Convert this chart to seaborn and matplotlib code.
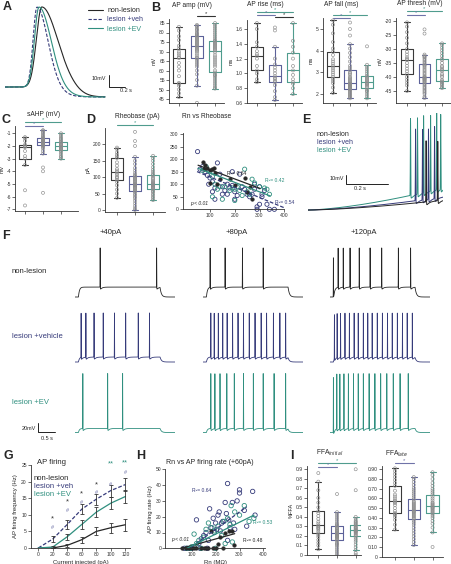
import numpy as np
import pandas as pd
import matplotlib
matplotlib.use('Agg')
import matplotlib.pyplot as plt
import seaborn as sns
from matplotlib.lines import Line2D

sns.set_style('ticks')
plt.rcParams['font.family'] = ['Liberation Sans', 'DejaVu Sans']
plt.rcParams['axes.linewidth'] = 0.6
plt.rcParams['axes.edgecolor'] = '#333333'

# --- colours ---
NL, VEH, EV = '#262626', '#363b7a', '#2f8f7f'
BOX_COLORS = ['#3a3a3a', '#5c6199', '#4f9c8e']
SIG_NL, SIG_VEH, SIG_EV = '#333333', '#6f73a8', '#4f9c8e'
POINT_COLOR = '#8c8c8c'
GROUPS = ['non-lesion', 'lesion +veh', 'lesion +EV']

# --- A: AP waveform (peak time, rise width, decay width) ---
ap_peak = [0.46, 0.40, 0.425]
ap_rise = [0.095, 0.068, 0.08]
ap_decay = [0.276, 0.19, 0.21]

# --- B/C/D/I: box plot samples ---
amp_nl = [46, 48, 50, 52, 53, 53.5, 57, 60, 62, 64, 66.5, 67, 68, 69, 70, 71.5, 73, 76, 78, 81, 83]
amp_veh = [43, 52, 55, 58, 60, 62, 63, 64, 65, 66, 66.5, 67, 68, 69, 70, 70.5, 71, 71.5, 72, 72.5, 73,
           73.5, 74, 74.5, 75, 75.5, 76, 76.5, 77, 77.5, 78, 78.5, 79, 79.5, 80, 81, 81.5, 82, 83, 83.5, 84]
amp_ev = [50.5, 51, 52, 53, 54, 55, 56, 57, 57.5, 58, 59, 60, 62, 63, 64, 65, 66, 67, 68, 69.5, 70.5,
          71, 71.5, 72, 72.5, 73, 73.5, 74, 74.5, 75, 75.5, 76, 77, 78, 79, 80, 81, 82, 83, 84, 85]

rise_nl = [0.88, 0.92, 1.0, 1.04, 1.1, 1.2, 1.24, 1.26, 1.3, 1.36, 1.42, 1.6, 1.68]
rise_veh = [0.64, 0.68, 0.76, 0.84, 0.88, 0.9, 0.92, 0.94, 0.96, 1.0, 1.04, 1.08, 1.12, 1.2, 1.36, 1.58, 1.62]
rise_ev = [0.72, 0.8, 0.86, 0.88, 0.92, 0.98, 1.04, 1.1, 1.2, 1.28, 1.36, 1.44, 1.68]

fall_nl = [2.05, 2.3, 2.5, 2.6, 2.7, 2.8, 2.9, 3.0, 3.1, 3.2, 3.3, 3.4, 3.5, 3.6, 3.8, 3.95, 4.1, 4.4, 4.8, 5.2, 5.4]
fall_veh = [1.8, 1.85, 1.9, 1.95, 2.0, 2.05, 2.1, 2.15, 2.2, 2.22, 2.25, 2.28, 2.3, 2.33, 2.36, 2.39, 2.42,
            2.44, 2.46, 2.48, 2.5, 2.55, 2.6, 2.65, 2.7, 2.75, 2.8, 2.9, 2.95, 3.0, 3.1, 3.2, 3.3, 3.5,
            3.7, 3.9, 4.1, 4.3, 4.7, 5.0, 5.3]
fall_ev = [1.8, 1.9, 2.0, 2.1, 2.15, 2.2, 2.3, 2.35, 2.4, 2.45, 2.48, 2.5, 2.55, 2.6, 2.65, 2.7, 2.75,
           2.8, 2.85, 2.95, 3.05, 3.15, 3.25, 3.35, 4.2]

thr_nl = [-45, -43, -42, -41, -40, -39, -38, -37, -36, -35, -34, -33.5, -33, -32, -31, -30, -28, -26, -24, -22, -20.5]
thr_veh = [-47.5, -47, -46, -45.5, -45, -44.5, -44, -43.5, -43, -42.5, -42, -41.8, -41.5, -41.2, -41,
           -40.8, -40.6, -40.4, -40.2, -40.1, -40, -39.5, -39, -38.5, -38, -37.5, -37, -36.5, -36,
           -35.8, -35.5, -35, -34.5, -34, -33.5, -33, -32.8, -32.5, -32, -24.5, -23]
thr_ev = [-44, -43.5, -43, -42.5, -42, -41.8, -41.5, -41, -40, -39.5, -39, -38, -37.5, -37, -36.5, -36,
          -35, -34, -33.5, -32.5, -31.5, -30.5, -29.5, -28.5, -28]

sahp_nl = [-6.7, -5.5, -3.5, -3.0, -2.8, -2.4, -2.1, -2.05, -2.0, -1.9, -1.6, -1.4, -1.3]
sahp_veh = [-5.7, -4.0, -3.7, -2.6, -2.4, -2.2, -2.1, -2.0, -1.95, -1.92, -1.9, -1.87, -1.85, -1.8,
            -1.77, -1.73, -1.7, -1.67, -1.63, -1.6, -1.55, -1.5, -1.47, -1.43, -1.4, -1.35, -1.3,
            -1.2, -1.1, -1.0, -0.9, -0.8, -0.75]
sahp_ev = [-3.0, -2.9, -2.8, -2.65, -2.5, -2.4, -2.3, -2.25, -2.2, -2.15, -2.1, -2.05, -2.0, -1.95,
           -1.9, -1.85, -1.8, -1.7, -1.65, -1.55, -1.45, -1.35, -1.25, -1.1, -1.0]

rheo_nl = [37, 50, 62, 75, 85, 92, 97, 100, 105, 110, 115, 120, 125, 135, 145, 158, 163, 168, 175, 185, 190]
rheo_veh = [0, 5, 12, 20, 28, 35, 40, 45, 50, 55, 58, 60, 63, 66, 68, 70, 72, 74, 75, 77, 78, 80, 82,
            85, 88, 90, 93, 95, 98, 100, 103, 107, 112, 120, 128, 140, 150, 162, 195, 210, 238]
rheo_ev = [30, 35, 40, 45, 50, 55, 58, 62, 65, 67, 69, 71, 73, 75, 77, 78, 80, 82, 84, 87, 90, 94, 98,
           102, 106, 110, 116, 122, 130, 140, 150, 158, 165]

ffa0_nl = [0.06, 0.1, 0.13, 0.16, 0.19, 0.21, 0.23, 0.25, 0.27, 0.28, 0.29, 0.3, 0.31, 0.33, 0.35,
           0.38, 0.41, 0.44, 0.46, 0.5, 0.55, 0.6, 0.68, 0.77, 0.86]
ffa0_veh = [0.0, 0.02, 0.04, 0.06, 0.08, 0.1, 0.11, 0.12, 0.13, 0.15, 0.16, 0.17, 0.18, 0.19, 0.19,
            0.2, 0.2, 0.21, 0.21, 0.22, 0.23, 0.23, 0.24, 0.25, 0.25, 0.26, 0.27, 0.28, 0.28, 0.29,
            0.3, 0.31, 0.32, 0.33, 0.35, 0.37, 0.39, 0.41, 0.43, 0.45, 0.64]
ffa0_ev = [0.0, 0.02, 0.05, 0.08, 0.11, 0.14, 0.16, 0.18, 0.2, 0.21, 0.22, 0.23, 0.24, 0.245, 0.25,
           0.255, 0.26, 0.265, 0.27, 0.28, 0.285, 0.29, 0.3, 0.31, 0.32, 0.33, 0.34, 0.35, 0.36,
           0.38, 0.4, 0.68, 0.9]

ffa1_nl = [0.28, 0.33, 0.38, 0.41, 0.43, 0.44, 0.45, 0.47, 0.5, 0.53, 0.55, 0.56, 0.57, 0.58, 0.6,
           0.62, 0.64, 0.68, 0.73, 0.76, 0.79, 0.82, 0.85, 0.88, 0.91]
ffa1_veh = [0.12, 0.15, 0.18, 0.21, 0.24, 0.27, 0.3, 0.33, 0.35, 0.37, 0.39, 0.4, 0.41, 0.42, 0.43,
            0.44, 0.45, 0.46, 0.465, 0.47, 0.48, 0.49, 0.5, 0.51, 0.52, 0.53, 0.54, 0.55, 0.56, 0.57,
            0.59, 0.61, 0.63, 0.65, 0.67, 0.69, 0.71, 0.74, 0.77, 0.8, 0.82]
ffa1_ev = [0.1, 0.25, 0.3, 0.34, 0.37, 0.4, 0.42, 0.44, 0.45, 0.46, 0.47, 0.48, 0.49, 0.5, 0.505,
           0.51, 0.52, 0.53, 0.54, 0.55, 0.56, 0.58, 0.6, 0.62, 0.64, 0.66, 0.68, 0.7, 0.73, 0.76,
           0.8, 0.84, 0.87]

# --- D: Rn vs rheobase ---
rr_nl_rn = [70, 75, 80, 90, 100, 100, 110, 115, 120, 130, 140, 180, 200, 240, 250, 260, 270]
rr_nl_rb = [190, 160, 175, 165, 155, 105, 160, 165, 145, 100, 120, 120, 95, 125, 70, 90, 40]
rr_veh_rn = [50, 60, 70, 80, 90, 95, 100, 110, 110, 120, 120, 130, 140, 150, 150, 160, 170, 170, 180, 190,
             190, 200, 200, 210, 220, 230, 240, 250, 260, 270, 280, 280, 290, 290, 300, 300, 310, 310,
             320, 330, 340, 360]
rr_veh_rb = [230, 160, 170, 150, 135, 100, 125, 110, 70, 85, 40, 185, 140, 90, 60, 75, 60, 100, 85, 95,
             150, 70, 40, 55, 140, 90, 80, 60, 50, 60, 100, 80, 10, 0, 20, 90, 60, 50, 75, 20, 0, 0]
rr_ev_rn = [70, 85, 100, 110, 110, 120, 130, 140, 150, 160, 180, 190, 200, 200, 210, 220, 230, 240, 250,
            260, 270, 280, 300, 320, 330, 340]
rr_ev_rb = [155, 170, 150, 130, 50, 100, 80, 90, 40, 90, 75, 85, 80, 35, 90, 75, 55, 160, 70, 60, 120,
            105, 90, 85, 80, 60]
rr_fit_icpt = [195, 170, 183]
rr_fit_slope = [-0.37, -0.41, -0.378]
rr_fit_x = [(52, 302), (48, 400), (52, 343)]

# --- E: ramp (end depolarisation, spike times, spike heights) ---
ramp_end = [11, 14.5, 24.5]
ramp_spikes = [[0.56, 0.615], [0.51, 0.543, 0.571, 0.6], [0.486, 0.519, 0.548, 0.581, 0.61, 0.629]]
ramp_spike_amp = [68, 80, 86]

# --- F: spike times (s) per row (group) and column (+40, +80, +120 pA) ---
steps_pa = ['+40pA', '+80pA', '+120pA']
row_labels = ['non-lesion', 'lesion +vehicle', 'lesion +EV']
row_step_mv = [22, 11, 9]
row_spike_mv = [87, 98, 122]
spikes_nl = [[0.74, 2.4],
             [0.21, 0.65, 1.16, 1.77],
             [0.1, 0.24, 0.39, 0.59, 0.86, 1.18, 1.52, 2.01, 2.37]]
spikes_veh = [[0.18, 0.32, 0.56, 0.83, 1.16, 1.49, 1.86, 2.19],
              [0.23, 0.33, 0.45, 0.58, 0.71, 0.87, 1.03, 1.19, 1.36, 1.53, 1.71, 1.87, 2.07, 2.26, 2.43],
              [0.13, 0.21, 0.31, 0.44, 0.57, 0.71, 0.83, 0.98, 1.11, 1.24, 1.39, 1.54, 1.69, 1.83,
               1.98, 2.13, 2.27, 2.42]]
spikes_ev = [[0.23, 0.96, 1.4],
             [0.23, 0.35, 0.5, 0.7, 0.92, 1.19, 1.48, 1.77, 2.09, 2.43],
             [0.1, 0.2, 0.29, 0.41, 0.54, 0.69, 0.83, 0.98, 1.15, 1.32, 1.49, 1.67, 1.86, 2.06, 2.3]]

# --- G: AP firing vs current ---
current_pa = [0, 20, 40, 60, 80, 100, 120]
fr_nl = [0, 0.0, 0.8, 2.5, 5.0, 6.1, 7.0]
fr_nl_sem = [0, 0.1, 0.5, 0.9, 1.2, 1.5, 1.8]
fr_veh = [0, 2.7, 7.1, 11.7, 14.7, 17.3, 19.1]
fr_veh_sem = [0, 0.9, 1.3, 1.5, 1.7, 1.8, 1.9]
fr_ev = [0, 0.3, 3.4, 7.1, 10.8, 13.5, 15.5]
fr_ev_sem = [0, 0.3, 0.9, 1.3, 1.6, 1.8, 1.9]
star_x = [20, 40, 60, 80]
star_y = [8.7, 13.9, 16.2, 19.0]
hash_x = [20, 40, 60, 80, 100, 120]
hash_y = [6.3, 11.4, 13.8, 16.7, 19.0, 22.7]
dstar_x = [100, 120]
dstar_y = [25.4, 25.6]

# --- H: Rn vs AP firing rate ---
h_nl_rn = [60, 75, 90, 100, 110, 120, 140, 150, 160, 170, 180, 190, 200, 210, 220, 230, 240, 255, 270, 275]
h_nl_fr = [0, 0, 0, 0, 0, 0, 0, 0, 0, 0, 11, 0, 0, 3, 7, 0, 10, 11, 11, 2]
h_veh_rn = [70, 80, 90, 100, 110, 120, 130, 140, 150, 160, 170, 175, 180, 190, 195, 200, 205, 210, 215,
            220, 225, 230, 240, 245, 250, 255, 260, 270, 275, 280, 290, 300, 300, 320, 330, 355, 365,
            135, 165, 250]
h_veh_fr = [0, 0, 0, 0, 1, 18, 3, 6, 8, 10, 5, 25, 13, 19, 10, 16, 12, 21, 23, 11, 16, 17, 29, 22, 41,
            18, 13, 29, 16, 12, 30, 35, 37, 24, 14, 36, 21, 0, 0, 5]
h_ev_rn = [80, 95, 110, 120, 130, 150, 160, 170, 185, 195, 210, 225, 235, 240, 250, 260, 265, 280, 300,
           320, 340, 360, 270, 200, 140, 100]
h_ev_fr = [0, 0, 9, 3, 5, 7, 12, 16, 13, 11, 14, 8, 17, 3, 19, 15, 27, 23, 21, 27, 17, 19, 4, 0, 0, 1]
h_fit_icpt = [-2.5, -10, -6]
h_fit_slope = [0.042, 0.11, 0.075]
h_fit_x = [(50, 280), (40, 330), (70, 360)]

W, H = 452, 564
fig = plt.figure(figsize=(W / 100, H / 100), dpi=100)


def rect(x0, y0, x1, y1):
    return [x0 / W, 1 - y1 / H, (x1 - x0) / W, (y1 - y0) / H]


def ftext(x, y, s, **kw):
    kw.setdefault('va', 'center')
    kw.setdefault('fontsize', 5)
    fig.text(x / W, 1 - y / H, s, **kw)


def fline(xs, ys, color='#222222', lw=0.7):
    fig.add_artist(Line2D([x / W for x in xs], [1 - y / H for y in ys], color=color, lw=lw))


def style(ax, fs=3.6):
    sns.despine(ax=ax)
    ax.tick_params(length=2, width=0.5, labelsize=fs, pad=1, colors='#333333')


def draw_box(px, groups, xlim, ylim, yticks, ylabels, ylabel, sigs, title, title_x, title_y):
    ax = fig.add_axes(rect(*px))
    df = pd.DataFrame({'group': np.repeat(GROUPS, [len(g) for g in groups]),
                       'value': np.concatenate([np.asarray(g, float) for g in groups])})
    sns.boxplot(data=df, x='group', y='value', hue='group', order=GROUPS, hue_order=GROUPS,
                palette=BOX_COLORS, fill=False, width=0.65, linewidth=0.8,
                showfliers=False, legend=False, ax=ax)
    n0 = len(ax.collections)
    sns.stripplot(data=df, x='group', y='value', order=GROUPS, jitter=False, size=2.2,
                  color=POINT_COLOR, edgecolor=POINT_COLOR, linewidth=0.45, ax=ax)
    for coll in ax.collections[n0:]:
        coll.set_facecolor('none')
    ax.set_xlim(*xlim)
    ax.set_ylim(*ylim)
    ax.set_yticks(yticks)
    ax.set_yticklabels(ylabels)
    ax.set_xticks([0, 1, 2])
    ax.set_xticklabels(['', '', ''])
    ax.set_xlabel('')
    ax.set_ylabel(ylabel, fontsize=4, labelpad=1.5)
    style(ax)
    for i, j, y, c in sigs:
        ax.plot([i, j], [y, y], color=c, lw=0.8, clip_on=False)
        ax.text((i + j) / 2, y, '*', ha='center', va='bottom', color=c, fontsize=4.2, clip_on=False)
    ftext(title_x, title_y, title, fontsize=4.8)
    return ax


# ---------------- A ----------------
axA = fig.add_axes(rect(5, 5, 130, 100))
tA = np.linspace(0, 1.25, 800)
for k, (col, ls) in enumerate(zip([NL, VEH, EV], ['-', (0, (3, 1.5)), '-'])):
    tp = ap_peak[k]
    g = np.where(tA < tp, np.exp(-((tA - tp) / ap_rise[k]) ** 2), np.exp(-((tA - tp) / ap_decay[k]) ** 2))
    ahp = 1 / (1 + np.exp(-(tA - (tp + 1.6 * ap_decay[k])) / 0.08))
    vA = -60 + 66.7 * g - 8.3 * ahp
    sns.lineplot(x=tA, y=vA, color=col, linestyle=ls, linewidth=0.8, estimator=None, sort=False,
                 label=GROUPS[k], ax=axA)
axA.set_xlim(0, 1.5625)
axA.set_ylim(-70.8, 8.3)
axA.axis('off')
leg = axA.legend(loc='upper left', bbox_to_anchor=(88 / W, 1 - 7 / H), bbox_transform=fig.transFigure,
                 frameon=False, fontsize=5, handlelength=2.2, labelcolor='linecolor',
                 labelspacing=0.35, handletextpad=0.6, borderaxespad=0, borderpad=0)
fline([109, 109, 125], [75, 87, 87])
ftext(106, 78, '10mV', ha='right', fontsize=4)
ftext(126, 91, '0.2 s', ha='center', fontsize=4)

# ---------------- B ----------------
draw_box((169, 19.2, 224, 102.8), [amp_nl, amp_veh, amp_ev], (-0.55, 2.5), (43, 87),
         range(45, 90, 5), [str(v) for v in range(45, 90, 5)], 'mV',
         [(1, 2, 88.7, SIG_NL)], 'AP amp (mV)', 172, 5.5)
draw_box((247, 20.1, 302, 103), [rise_nl, rise_veh, rise_ev], (-0.55, 2.5), (0.6, 1.72),
         [0.6, 0.8, 1.0, 1.2, 1.4, 1.6], ['0.6', '0.8', '1.0', '1.2', '1.4', '1.6'], 'ms',
         [(0, 2, 1.83, SIG_EV), (0, 1, 1.79, SIG_VEH), (1, 2, 1.76, SIG_NL)], 'AP rise (ms)', 247, 4.5)
draw_box((322.8, 18.2, 375.5, 103.1), [fall_nl, fall_veh, fall_ev], (-0.6, 2.5), (1.58, 5.5),
         [2, 3, 4, 5], ['2', '3', '4', '5'], 'ms',
         [(0, 2, 5.65, SIG_EV), (0, 1, 5.51, SIG_VEH)], 'AP fall (ms)', 324, 5)
draw_box((396.5, 18.2, 450.8, 103), [thr_nl, thr_veh, thr_ev], (-0.6, 2.5), (-49.3, -19),
         range(-45, -15, 5), [str(v) for v in range(-45, -15, 5)], 'mV',
         [(0, 2, -16.4, SIG_EV), (0, 1, -17.7, SIG_VEH)], 'AP thresh (mV)', 397, 3.5)

# ---------------- C ----------------
draw_box((15.1, 125.7, 78.1, 211.3), [sahp_nl, sahp_veh, sahp_ev], (-0.55, 2.95), (-7.16, -0.4),
         range(-7, 0), [str(v) for v in range(-7, 0)], 'mV',
         [(0, 2, -0.11, SIG_EV), (0, 1, -0.42, SIG_VEH)], 'sAHP (mV)', 27, 115)

# ---------------- D ----------------
draw_box((104.9, 127.9, 165.1, 211.6), [rheo_nl, rheo_veh, rheo_ev], (-0.67, 2.67), (-5, 250),
         [0, 50, 100, 150, 200], ['0', '50', '100', '150', '200'], 'pA',
         [(0, 2, 258, SIG_EV)], 'Rheobase (pA)', 115, 116)

axD = fig.add_axes(rect(182.7, 132.8, 284.3, 209.3))
sns.scatterplot(x=rr_veh_rn, y=rr_veh_rb, marker='o', s=9, facecolor='none', edgecolor=VEH,
                linewidth=0.6, clip_on=False, ax=axD)
sns.scatterplot(x=rr_ev_rn, y=rr_ev_rb, marker='o', s=9, facecolor='none', edgecolor=EV,
                linewidth=0.6, clip_on=False, ax=axD)
sns.scatterplot(x=rr_nl_rn, y=rr_nl_rb, marker='o', s=7, color=NL, edgecolor=NL,
                linewidth=0.3, clip_on=False, ax=axD)
for k, (col, ls) in enumerate(zip([NL, VEH, EV], ['-', (0, (3, 1.5)), '-'])):
    xf = np.array(rr_fit_x[k], float)
    sns.lineplot(x=xf, y=rr_fit_icpt[k] + rr_fit_slope[k] * xf, color=col, linestyle=ls,
                 linewidth=0.9, ax=axD)
axD.set_xlim(-10, 400)
axD.set_ylim(0, 305)
axD.set_xticks([100, 200, 300, 400])
axD.set_yticks([0, 50, 100, 150, 200, 250, 300])
style(axD)
ftext(207, 116, 'Rn vs Rheobase', ha='center', fontsize=4.8)
ftext(227, 173, 'R²= 0.64', fontsize=3.6, color=NL)
ftext(265, 181, 'R²= 0.42', fontsize=3.6, color=EV)
ftext(275, 202, 'R²= 0.54', fontsize=3.6, color=VEH)
ftext(190, 204, 'p < 0.01', fontsize=3.6, style='italic', color=NL)

# ---------------- E ----------------
axE = fig.add_axes(rect(308, 113, 443, 213))
tE = np.linspace(0, 0.64, 1600)
for k in [2, 1, 0]:
    col = [NL, VEH, EV][k]
    vE = -70 + ramp_end[k] * (tE / 0.64) ** 1.5
    for ts in ramp_spikes[k]:
        vE = vE + ramp_spike_amp[k] * np.exp(-((tE - ts) / 0.0012) ** 2)
        dt = tE - ts
        vE = vE - np.where(dt > 0, 5 * np.exp(-dt / 0.012) * (1 - np.exp(-dt / 0.002)), 0)
    sns.lineplot(x=tE, y=vE, color=col, linewidth=0.7, estimator=None, sort=False, ax=axE)
axE.set_xlim(0, 0.64)
axE.set_ylim(-73.3, 37.8)
axE.axis('off')
ftext(317, 135, 'non-lesion', fontsize=5, color=NL)
ftext(317, 142.5, 'lesion +veh', fontsize=5, color=VEH)
ftext(317, 150, 'lesion +EV', fontsize=5, color=EV)
fline([346, 346, 388], [175, 184, 184])
ftext(344, 178, '10mV', ha='right', fontsize=4)
ftext(360, 189, '0.2 s', ha='center', fontsize=4)

# ---------------- F ----------------
col_x = [(75, 175), (203, 303), (330, 430)]
row_base = [297, 362, 432.5]
row_colors = [NL, VEH, EV]
tF = np.linspace(0, 2.94, 2941)
for r, spikes_row in enumerate([spikes_nl, spikes_veh, spikes_ev]):
    for c in range(3):
        x0, x1 = col_x[c]
        base = row_base[r]
        ax = fig.add_axes(rect(x0, base - 135 * 0.45, x1, base + 12 * 0.45))
        on = np.where(tF >= 0.1, 1 - np.exp(-(tF - 0.1) / 0.03), 0)
        off = np.where(tF >= 2.5, np.exp(-(tF - 2.5) / 0.04), 1)
        vF = -70 + row_step_mv[r] * on * off
        for ts in spikes_row[c]:
            vF = vF + row_spike_mv[r] * np.exp(-((tF - ts) / 0.003) ** 2)
            dt = tF - ts
            vF = vF - np.where(dt > 0, 6 * np.exp(-dt / 0.05) * (1 - np.exp(-dt / 0.005)), 0)
        sns.lineplot(x=tF, y=vF, color=row_colors[r], linewidth=0.6, estimator=None, sort=False, ax=ax)
        ax.set_xlim(0, 2.94)
        ax.set_ylim(-82, 65)
        ax.axis('off')
for c, lab in enumerate(steps_pa):
    ftext([111, 237, 364][c], 233, lab, ha='center', fontsize=5.5)
for r, lab in enumerate(row_labels):
    ftext(12, [271, 336, 403][r], lab, fontsize=5.5, color=row_colors[r])
fline([38, 38, 55], [423, 432, 432])
ftext(36, 428, '20mV', ha='right', fontsize=4)
ftext(47, 438, '0.5 s', ha='center', fontsize=4)

# ---------------- G ----------------
axG = fig.add_axes(rect(31, 465, 130.4, 548))
for m, sem, col, ls in [(fr_nl, fr_nl_sem, NL, '-'), (fr_veh, fr_veh_sem, VEH, (0, (3, 1.5))),
                        (fr_ev, fr_ev_sem, EV, '-')]:
    sns.lineplot(x=current_pa, y=m, color=col, linestyle=ls, linewidth=0.9, ax=axG)
    axG.errorbar(current_pa[1:], m[1:], yerr=sem[1:], fmt='none', ecolor='#333333',
                 elinewidth=0.6, capsize=1.3, capthick=0.6)
for x, y in zip(star_x, star_y):
    axG.text(x, y, '*', ha='center', va='center', fontsize=5.5, color='#333333')
for x, y in zip(hash_x, hash_y):
    axG.text(x, y, '#', ha='center', va='center', fontsize=4, color=SIG_VEH)
for x, y in zip(dstar_x, dstar_y):
    axG.text(x, y, '**', ha='center', va='center', fontsize=5.5, color=EV, clip_on=False)
axG.set_xlim(-10, 127)
axG.set_ylim(0, 25)
axG.set_xticks(current_pa)
axG.set_yticks([0, 5, 10, 15, 20, 25])
axG.set_xlabel('Current injected (pA)', fontsize=4.3, labelpad=2)
axG.set_ylabel('AP firing frequency (Hz)', fontsize=4.3, labelpad=2)
style(axG)
ftext(37, 462, 'AP firing', fontsize=5.5)
ftext(34, 478, 'non-lesion', fontsize=5.5, color=NL)
ftext(34, 486, 'lesion +veh', fontsize=5.5, color=VEH)
ftext(34, 494, 'lesion +EV', fontsize=5.5, color=EV)

# ---------------- H ----------------
axH = fig.add_axes(rect(165.4, 469.3, 264.6, 548.3))
sns.scatterplot(x=h_veh_rn, y=h_veh_fr, marker='o', s=10, facecolor='none', edgecolor=VEH,
                linewidth=0.6, clip_on=False, ax=axH)
sns.scatterplot(x=h_ev_rn, y=h_ev_fr, marker='o', s=10, facecolor='none', edgecolor=EV,
                linewidth=0.6, clip_on=False, ax=axH)
sns.scatterplot(x=h_nl_rn, y=h_nl_fr, marker='o', s=7, color=NL, edgecolor=NL,
                linewidth=0.3, clip_on=False, ax=axH)
for k, (col, ls) in enumerate(zip([NL, VEH, EV], ['-', (0, (3, 1.5)), '-'])):
    xf = np.array(h_fit_x[k], float)
    sns.lineplot(x=xf, y=h_fit_icpt[k] + h_fit_slope[k] * xf, color=col, linestyle=ls,
                 linewidth=0.9, ax=axH)
axH.set_xlim(-10, 405)
axH.set_ylim(0, 50)
axH.set_xticks([100, 200, 300, 400])
axH.set_yticks([0, 10, 20, 30, 40, 50])
axH.set_xlabel('Rn (MΩ)', fontsize=4.3, labelpad=1.5)
axH.set_ylabel('AP firing rate (Hz)', fontsize=4.3, labelpad=2)
style(axH)
ftext(210, 462, 'Rn vs AP firing rate (+60pA)', ha='center', fontsize=5)
ftext(192, 490, 'R²= 0.64', fontsize=3.6, color=VEH)
ftext(253, 523, 'R²= 0.53', fontsize=3.6, color=EV)
ftext(243, 541, 'R²= 0.48', fontsize=3.6, color=NL)
ftext(171, 539, 'p < 0.01', fontsize=3.6, style='italic', color=NL)

# ---------------- I ----------------
draw_box((307.1, 466.4, 361.3, 555), [ffa0_nl, ffa0_veh, ffa0_ev], (-0.6, 2.3), (0, 0.93),
         [0, 0.1, 0.2, 0.3, 0.4, 0.5, 0.6, 0.7, 0.8, 0.9],
         ['0', '0.1', '0.2', '0.3', '0.4', '0.5', '0.6', '0.7', '0.8', '0.9'], '%FFA',
         [(0, 2, 0.97, SIG_EV), (0, 1, 0.927, SIG_VEH)], 'FFA$_{initial}$', 316, 453)
draw_box((381.8, 466.4, 442.9, 556.7), [ffa1_nl, ffa1_veh, ffa1_ev], (-0.7, 2.55), (0, 0.93),
         [0, 0.1, 0.2, 0.3, 0.4, 0.5, 0.6, 0.7, 0.8, 0.9],
         ['0', '0.10', '0.20', '0.30', '0.40', '0.50', '0.60', '0.70', '0.80', '0.90'], '',
         [(0, 1, 0.969, SIG_VEH)], 'FFA$_{late}$', 385, 454)

# ---------------- panel letters ----------------
for lab, x, y in [('A', 7, 7), ('B', 156, 8), ('C', 6, 120), ('D', 91, 120), ('E', 306, 120),
                  ('F', 6, 236), ('G', 8, 456), ('H', 141, 456), ('I', 292, 456)]:
    ftext(x, y, lab, ha='center', fontsize=9, fontweight='bold')

fig.savefig('out.png', dpi=100)
